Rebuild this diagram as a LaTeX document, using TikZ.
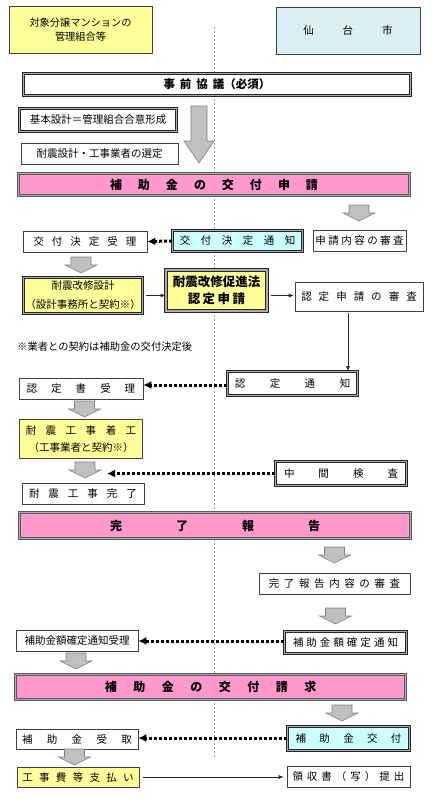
\documentclass[tikz,border=0pt]{standalone}
\usepackage{fontspec}
\setmainfont{Noto Sans CJK JP}
\usepackage{tikz}
\usetikzlibrary{arrows.meta}
\definecolor{pinkbar}{HTML}{FF99CC}
\definecolor{paleyellow}{HTML}{FFFF99}
\definecolor{palecyan}{HTML}{CCFFFF}
\definecolor{cityblue}{HTML}{DAEEF3}
\definecolor{arrowgray}{HTML}{C0C0C0}
\newcommand{\blockarrow}[1]{%
  \draw[grayarrow] (#1) ++(-10,0) -- ++(20,0) -- ++(0,8) -- ++(6,0)
    -- ++(-16,8) -- ++(-16,-8) -- ++(6,0) -- cycle;}

\begin{document}
\begin{tikzpicture}[x=1pt,y=-1pt
    ,box/.style={draw=black!75, line width=0.6pt, fill=white, inner sep=0pt
                ,font=\fontsize{10.5}{13}\selectfont}
    ,dbox/.style={box, draw=black!85, line width=0.7pt, double=gray!65
                 ,double distance=1.4pt}
    ,bar/.style={dbox, draw=black!65, fill=pinkbar
                ,font=\bfseries\fontsize{12}{14}\selectfont}
    ,wh/.style 2 args={minimum width=#1pt, minimum height=#2pt}
    ,charsep/.style={execute at begin node={\spaceskip=#1pt\relax}}
    ,grayarrow/.style={fill=arrowgray, draw=gray, line width=0.6pt}
    ,flow/.style={-{Latex[length=5pt,width=4pt]}, line width=0.6pt, black!85}
    ,notice/.style={-{Latex[length=8pt,width=8pt]}, line width=3pt
                   ,dash pattern=on 3pt off 2pt}
    ,divider/.style={gray!80, line width=0.6pt, dash pattern=on 2pt off 2pt}]
\useasboundingbox (0,0) rectangle (431,800);
\draw[divider] (214,27) -- (214,758);

% headings
\node[box, fill=paleyellow, wh={143}{47}, align=center
     ,font=\fontsize{10.2}{14}\selectfont] (kumiai) at (80.5,29.5)
     {対象分譲マンションの\\管理組合等};
\node[box, fill=cityblue, wh={144}{47}, charsep=29] (sendai) at (348,30.5)
     {仙 台 市};

% application
\node[dbox, wh={387}{22}, charsep=5, font=\bfseries\fontsize{11.5}{14}\selectfont]
     (jizen) at (217,84.5) {事 前 協 議（必須）};
\node[dbox, wh={157}{23}] (kihon) at (98,120) {基本設計＝管理組合合意形成};
\node[box, wh={157}{21}] (sentei) at (99.5,153.5) {耐震設計・工事業者の選定};
\draw[grayarrow] (191,106) -- (207,106) -- (207,141) -- (214,141)
  -- (199,163) -- (184,141) -- (191,141) -- cycle;
\node[bar, wh={391}{22}, charsep=16] (shinsei) at (214,184.5)
     {補 助 金 の 交 付 申 請};

\blockarrow{359,205}
\node[box, wh={93}{21}, charsep=2.5] (shinsa) at (359.5,240.5) {申 請 内 容 の 審 査};
\node[dbox, fill=palecyan, wh={130}{21}, charsep=10.5] (ktsuchi) at (237.5,241)
     {交 付 決 定 通 知};
\node[box, wh={124}{21}, charsep=8] (kjuri) at (85,241.5) {交 付 決 定 受 理};
\draw[notice] (ktsuchi.west) -- (kjuri.east);

% certification
\blockarrow{81,257}
\node[dbox, fill=paleyellow, wh={119}{36}, align=center
     ,font=\fontsize{10.5}{19}\selectfont] (sekkei) at (83,295.5)
     {耐震改修設計\\（設計事務所と契約※）};
\node[dbox, fill=paleyellow, wh={101}{41}, line width=1pt, double distance=1.6pt
     ,align=center, charsep=2.5, font=\bfseries\fontsize{12.5}{17}\selectfont]
     (nshinsei) at (216.5,290.5) {耐震改修促進法\\認 定 申 請};
\node[box, wh={128}{29}, charsep=7] (nshinsa) at (359,296.5) {認 定 申 請 の 審 査};
\draw[flow, shorten <=3pt] (sekkei.east) -- (sekkei.east -| nshinsei.west);
\draw[flow, shorten <=3pt, shorten >=1pt] (nshinsei.east |- sekkei.east)
  -- (nshinsa.west |- sekkei.east);
\node[anchor=west, inner sep=0pt, font=\fontsize{10.3}{13}\selectfont] (note)
     at (17,347) {※業者との契約は補助金の交付決定後};
\node[dbox, wh={130}{24}, charsep=24.5] (ntsuchi) at (292.5,383.5) {認 定 通 知};
\draw[flow, shorten <=2pt] ([xshift=-11pt]nshinsa.south)
  -- ([xshift=-11pt]nshinsa.south |- ntsuchi.north);
\node[box, wh={124}{21}, charsep=14] (nsho) at (81,388.5) {認 定 書 受 理};
\draw[notice] (ntsuchi.west |- 0,385) -- (nsho.east |- 0,385);

% works
\blockarrow{84.5,401}
\node[box, fill=paleyellow, wh={123}{39}, align=center, charsep=9.5
     ,font=\fontsize{10.5}{17}\selectfont] (chakko) at (81,439)
     {耐 震 工 事 着 工\\（工事業者と契約※）};
\blockarrow{85,462}
\coordinate (chuend) at (107,473.5);
\node[dbox, wh={131}{24}, charsep=24] (chukan) at (341,473.5) {中 間 検 査};
\draw[notice] (chukan.west) -- (chuend);
\node[box, wh={122}{21}, charsep=9] (kkanryo) at (83,493.5) {耐 震 工 事 完 了};

% completion
\node[bar, wh={391}{26}, charsep=54] (hokoku) at (215,525.5) {完 了 報 告};
\blockarrow{334.5,547}
\node[box, wh={151}{21}, charsep=4.6] (hshinsa) at (334.5,583.5)
     {完 了 報 告 内 容 の 審 査};
\blockarrow{335.5,608}
\node[dbox, wh={122}{22}, charsep=3] (kgtsuchi) at (345.5,642.5)
     {補 助 金 額 確 定 通 知};
\node[box, wh={122}{21}] (kgjuri) at (77,640.5) {補助金額確定通知受理};
\draw[notice] (kgtsuchi.west |- 0,641) -- (kgjuri.east |- 0,641);
\blockarrow{76,653}
\node[bar, wh={390}{25}, charsep=16.5] (seikyu) at (210.5,687)
     {補 助 金 の 交 付 請 求};

% payment
\blockarrow{342,705}
\node[dbox, fill=palecyan, wh={122}{24}, charsep=13.3] (kofu) at (348.5,738.5)
     {補 助 金 交 付};
\node[box, wh={122}{20}, charsep=14.3] (uketori) at (77,739) {補 助 金 受 取};
\draw[notice] (kofu.west |- 0,738) -- (uketori.east |- 0,738);
\blockarrow{74.5,749}
\node[box, fill=paleyellow, wh={122}{20}, charsep=6.3] (shiharai) at (78,777)
     {工 事 費 等 支 払 い};
\node[box, wh={123}{21}, charsep=4] (ryoshu) at (348.5,776.5)
     {領 収 書 （ 写 ） 提 出};
\draw[flow, shorten <=4pt, shorten >=3pt] (shiharai.east) -- (ryoshu.west |- shiharai.east);
\end{tikzpicture}
\end{document}
